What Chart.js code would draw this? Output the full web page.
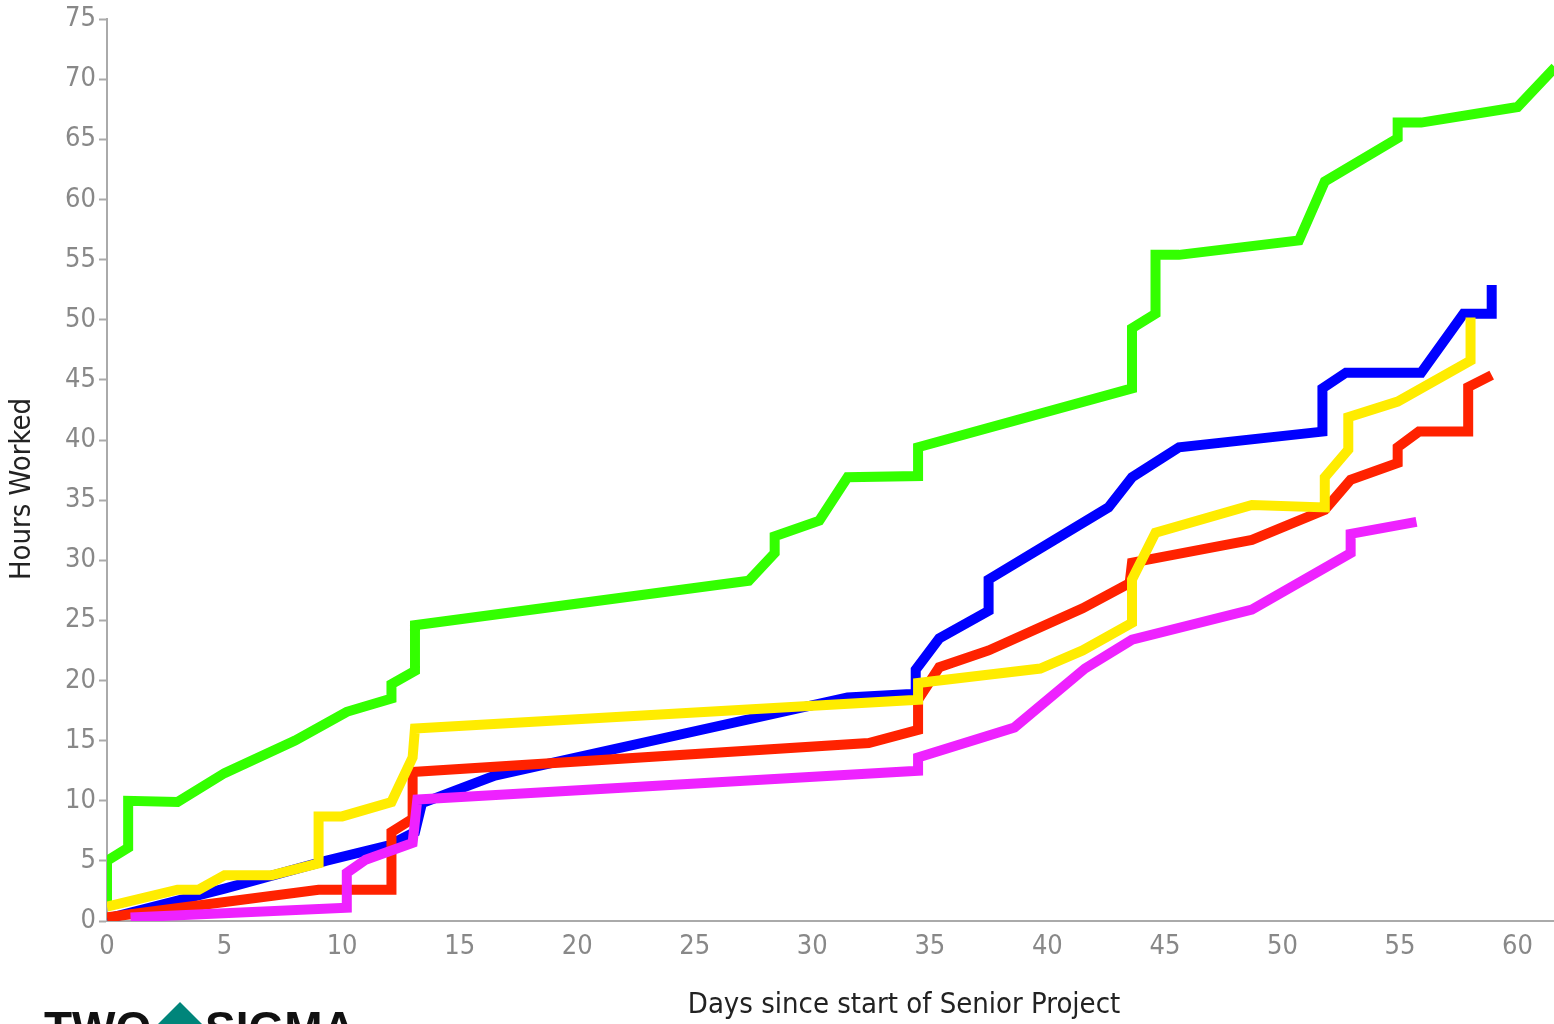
<!DOCTYPE html>
<html>
<head>
<meta charset="utf-8">
<script src="https://cdn.jsdelivr.net/npm/chart.js@4.4.1/dist/chart.umd.min.js"></script>
<style>
  html, body { margin: 0; padding: 0; background: #fff; }
  #wrap { width: 1554px; height: 1024px; position: relative; }
</style>
</head>
<body>
<div id="wrap"><canvas id="hoursChart"></canvas></div>
<script>
// hours worked per student (day, cumulative hours)
var greenDays  = [0, 0, 0.9, 0.9, 3, 5, 8, 10.2, 12.1, 12.1, 13.1, 13.1, 27.3, 28.4, 28.4, 30.3, 31.5, 34.5, 34.5, 43.6, 43.6, 44.6, 44.6, 45.6, 50.7, 51.8, 54.9, 54.9, 55.9, 60, 61.6];
var greenHours = [1.5, 5, 6.1, 10, 9.9, 12.3, 15, 17.4, 18.5, 19.7, 20.8, 24.6, 28.3, 30.6, 32, 33.3, 36.9, 37, 39.4, 44.3, 49.3, 50.5, 55.4, 55.4, 56.6, 61.5, 65.1, 66.4, 66.4, 67.7, 71];

var blueDays  = [0, 5, 9.3, 12, 13.1, 13.4, 16.5, 31.5, 34.4, 34.4, 35.4, 37.5, 37.5, 42.6, 43.6, 45.6, 51.7, 51.7, 52.7, 55.9, 57.7, 58.9, 58.9];
var blueHours = [0.2, 2.7, 5, 6.3, 7.4, 9.8, 12.1, 18.6, 18.9, 20.9, 23.5, 25.8, 28.4, 34.4, 36.9, 39.4, 40.7, 44.3, 45.6, 45.6, 50.5, 50.5, 52.9];

var redDays  = [0, 9, 12.1, 12.1, 13, 13, 32.4, 34.5, 34.5, 35.4, 37.5, 41.5, 43.5, 43.6, 48.7, 51.8, 52.9, 54.9, 54.9, 55.8, 57.9, 57.9, 58.9];
var redHours = [0.3, 2.6, 2.6, 7.4, 8.5, 12.4, 14.8, 15.9, 18.4, 21.1, 22.5, 26, 28.1, 29.8, 31.7, 34.2, 36.7, 38.1, 39.4, 40.7, 40.7, 44.4, 45.4];

var yellowDays  = [0, 3, 3.9, 5, 7, 9, 9, 10, 12.1, 13, 13.1, 34.5, 34.5, 39.7, 41.5, 43.6, 43.6, 44.6, 48.7, 51.8, 51.8, 52.8, 52.8, 54.9, 58, 58];
var yellowHours = [1.2, 2.6, 2.6, 3.8, 3.8, 4.8, 8.7, 8.7, 9.9, 13.6, 16, 18.4, 19.8, 21, 22.5, 24.8, 28.4, 32.3, 34.6, 34.4, 36.9, 39.2, 41.9, 43.2, 46.6, 50.2];

var magentaDays  = [1, 10.2, 10.2, 11, 13, 13.2, 34.5, 34.5, 38.6, 41.6, 43.6, 48.7, 52.9, 52.9, 55.7];
var magentaHours = [0.3, 1.1, 4, 5.1, 6.5, 10.1, 12.5, 13.6, 16.1, 21, 23.4, 25.9, 30.6, 32.2, 33.2];

var yTicks = [0, 5, 10, 15, 20, 25, 30, 35, 40, 45, 50, 55, 60, 65, 70, 75];
var xTicks = [0, 5, 10, 15, 20, 25, 30, 35, 40, 45, 50, 55, 60];

var xTitle = 'Days since start of Senior Project';
var yTitle = 'Hours Worked';

function pts(days, hours) {
    return days.map(function (d, i) { return { x: d, y: hours[i] }; });
}

function series(days, hours, color, order) {
    return {
        data: pts(days, hours),
        borderColor: color,
        borderWidth: 10,
        pointRadius: 0,
        tension: 0,
        fill: false,
        borderJoinStyle: 'miter',
        borderCapStyle: 'butt',
        order: order
    };
}

var labelFont = "'Liberation Sans Narrow', 'DejaVu Sans Condensed', 'Liberation Sans', sans-serif";

// axis titles sit off-centre in the original, so they are drawn by hand
// plus the two sigma logo at the bottom, mostly cut off by the frame
var extrasPlugin = {
    id: 'extras',
    afterDraw: function (chart) {
        var ctx = chart.ctx;
        ctx.save();
        ctx.fillStyle = '#222';
        ctx.font = "29px " + labelFont;
        ctx.textAlign = 'center';
        ctx.textBaseline = 'middle';
        ctx.fillText(xTitle, 904, 1005);
        ctx.save();
        ctx.translate(22, 489);
        ctx.rotate(-Math.PI / 2);
        ctx.fillText(yTitle, 0, 0);
        ctx.restore();

        ctx.textAlign = 'left';
        ctx.textBaseline = 'alphabetic';
        ctx.fillStyle = '#111';
        ctx.font = "bold 46px 'Liberation Sans', sans-serif";
        ctx.fillText('TWO', 44, 1044);
        ctx.fillText('SIGMA', 205, 1044);
        ctx.fillStyle = '#00857a';
        ctx.beginPath();
        ctx.moveTo(180, 1002);
        ctx.lineTo(204, 1026);
        ctx.lineTo(180, 1050);
        ctx.lineTo(156, 1026);
        ctx.closePath();
        ctx.fill();
        ctx.restore();
    }
};

var ctx = document.getElementById('hoursChart').getContext('2d');
var hoursChart = new Chart(ctx, {
    type: 'line',
    data: {
        datasets: [
            series(yellowDays, yellowHours, '#ffec00', 1),
            series(magentaDays, magentaHours, '#ee22ff', 2),
            series(redDays, redHours, '#ff2200', 3),
            series(greenDays, greenHours, '#33ff00', 4),
            series(blueDays, blueHours, '#0000ff', 5)
        ]
    },
    options: {
        responsive: true,
        maintainAspectRatio: false,
        animation: false,
        layout: { padding: { top: 19, right: 0, left: 0, bottom: 0 } },
        plugins: {
            legend: { display: false },
            tooltip: { enabled: false }
        },
        scales: {
            x: {
                type: 'linear',
                min: 0,
                max: 61.55,
                afterBuildTicks: function (scale) {
                    scale.ticks = xTicks.map(function (v) { return { value: v }; });
                },
                afterFit: function (scale) { scale.height = 103; },
                grid: { display: true, drawOnChartArea: false, drawTicks: false },
                border: { color: '#aaa', width: 2 },
                ticks: {
                    color: '#888',
                    padding: 10,
                    maxRotation: 0,
                    font: { family: labelFont, size: 27 }
                }
            },
            y: {
                type: 'linear',
                min: 0,
                max: 75,
                afterBuildTicks: function (scale) {
                    scale.ticks = yTicks.map(function (v) { return { value: v }; });
                },
                afterFit: function (scale) { scale.width = 107; },
                grid: { display: true, drawOnChartArea: false, drawTicks: true, tickLength: 8, color: '#aaa', tickWidth: 2 },
                border: { color: '#aaa', width: 2 },
                ticks: {
                    color: '#888',
                    padding: 3,
                    font: { family: labelFont, size: 27 }
                }
            }
        }
    },
    plugins: [extrasPlugin]
});
</script>
</body>
</html>
